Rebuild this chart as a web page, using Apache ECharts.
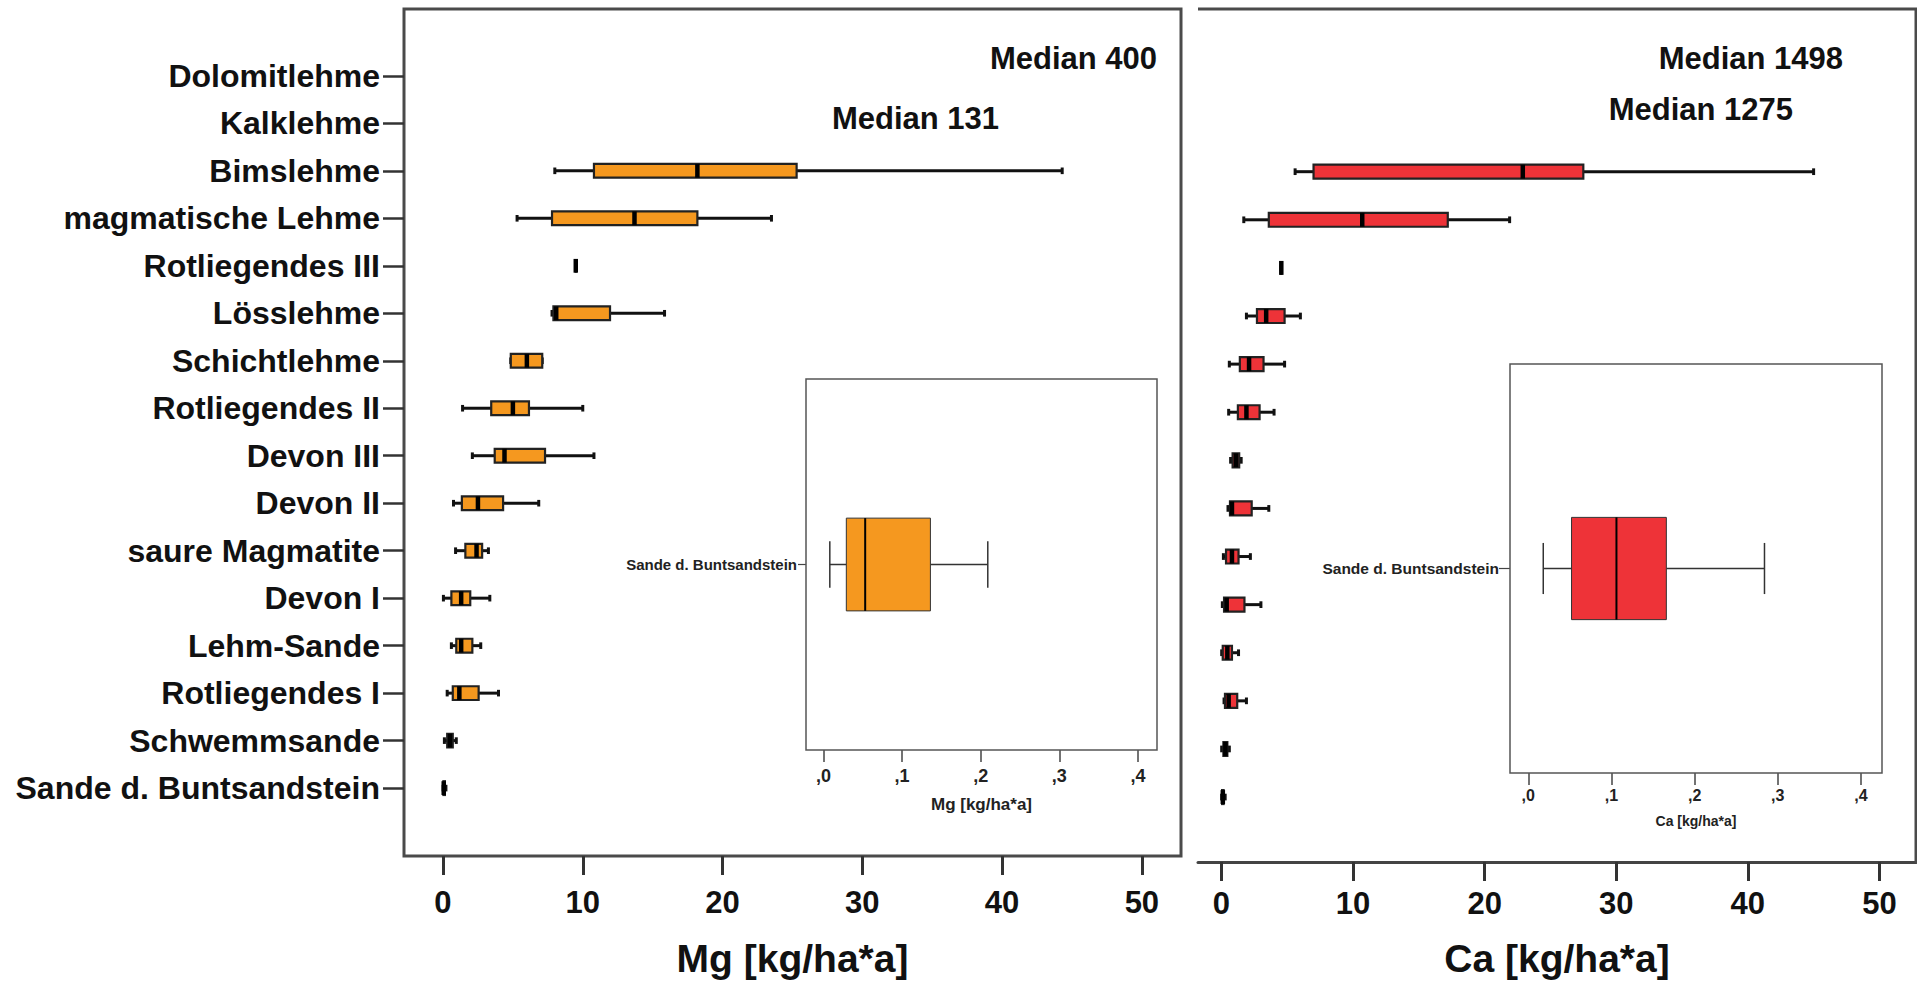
<!DOCTYPE html>
<html>
<head>
<meta charset="utf-8">
<title>Mg / Ca Boxplots</title>
<script src="https://cdn.jsdelivr.net/npm/echarts@6/dist/echarts.min.js"></script>
<style>
html, body { margin: 0; padding: 0; background: #fff; }
#chart { width: 1917px; height: 983px; }
</style>
</head>
<body>
<div id="chart"></div>
<script>
const categories = [
    'Dolomitlehme', 'Kalklehme', 'Bimslehme', 'magmatische Lehme', 'Rotliegendes III',
    'Lösslehme', 'Schichtlehme', 'Rotliegendes II', 'Devon III', 'Devon II',
    'saure Magmatite', 'Devon I', 'Lehm-Sande', 'Rotliegendes I', 'Schwemmsande',
    'Sande d. Buntsandstein'
];

// [min, Q1, median, Q3, max] per category; null = off the 0-50 scale
const mgBoxes = [
    null,
    null,
    [8.0, 10.8, 18.2, 25.3, 44.3],
    [5.3, 7.8, 13.7, 18.2, 23.5],
    [9.5, 9.5, 9.5, 9.5, 9.5],
    [7.8, 7.9, 8.1, 11.95, 15.85],
    [4.85, 4.85, 6.0, 7.1, 7.1],
    [1.4, 3.45, 5.0, 6.15, 10.0],
    [2.1, 3.7, 4.4, 7.3, 10.8],
    [0.75, 1.35, 2.5, 4.3, 6.85],
    [0.9, 1.6, 2.4, 2.8, 3.25],
    [0.03, 0.6, 1.3, 1.95, 3.35],
    [0.6, 0.95, 1.3, 2.1, 2.7],
    [0.3, 0.7, 1.17, 2.55, 3.97],
    [0.1, 0.3, 0.5, 0.7, 0.95],
    [0.008, 0.029, 0.053, 0.136, 0.209]
];

const caBoxes = [
    null,
    null,
    [5.6, 7.0, 22.9, 27.5, 45.0],
    [1.7, 3.6, 10.7, 17.2, 21.9],
    [4.55, 4.55, 4.55, 4.55, 4.55],
    [1.9, 2.7, 3.4, 4.8, 6.0],
    [0.6, 1.4, 2.1, 3.2, 4.8],
    [0.55, 1.25, 1.9, 2.9, 4.0],
    [0.7, 0.85, 1.1, 1.35, 1.5],
    [0.5, 0.65, 0.8, 2.3, 3.6],
    [0.15, 0.35, 0.8, 1.3, 2.2],
    [0.07, 0.2, 0.4, 1.75, 3.0],
    [0.02, 0.1, 0.45, 0.8, 1.3],
    [0.2, 0.27, 0.55, 1.2, 1.9],
    [0.02, 0.15, 0.3, 0.45, 0.6],
    [0.018, 0.052, 0.106, 0.166, 0.284]
];

// zoomed view of "Sande d. Buntsandstein"
const insetCategory = 'Sande d. Buntsandstein';
const mgInset = [0.008, 0.029, 0.053, 0.136, 0.209];
const caInset = [0.018, 0.052, 0.106, 0.166, 0.284];

// medians of the two off-scale groups (Dolomitlehme, Kalklehme)
const mgMedians = [400, 131];
const caMedians = [1498, 1275];

const mainTicks = [0, 10, 20, 30, 40, 50];
const insetTicks = [0, 0.1, 0.2, 0.3, 0.4];
const catTicks = categories.map((_, i) => i);

const FONT = '"Liberation Sans", Arial, sans-serif';
const ORANGE = '#F5981F';
const RED = '#EE3338';

function toRows(boxes) {
    return boxes.map((b, i) => (b ? [i].concat(b) : null)).filter(Boolean);
}

function boxRenderer(s) {
    return function (params, api) {
        const y = api.value(0);
        const p = [1, 2, 3, 4, 5].map(i => api.coord([api.value(i), y]));
        const band = api.size([0, 1])[1];
        const h = band * s.ratio;
        const cap = h * s.cap;
        const cy = p[0][1];
        const line = { stroke: s.line, lineWidth: s.whisker };
        const capStyle = { stroke: s.line, lineWidth: s.capWidth };
        return {
            type: 'group',
            children: [
                { type: 'line', shape: { x1: p[0][0], y1: cy, x2: p[1][0], y2: cy }, style: line },
                { type: 'line', shape: { x1: p[3][0], y1: cy, x2: p[4][0], y2: cy }, style: line },
                { type: 'line', shape: { x1: p[0][0], y1: cy - cap, x2: p[0][0], y2: cy + cap }, style: capStyle },
                { type: 'line', shape: { x1: p[4][0], y1: cy - cap, x2: p[4][0], y2: cy + cap }, style: capStyle },
                {
                    type: 'rect',
                    shape: { x: p[1][0], y: cy - h / 2, width: p[3][0] - p[1][0], height: h },
                    style: { fill: s.color, stroke: s.border, lineWidth: s.borderWidth }
                },
                {
                    type: 'line',
                    shape: { x1: p[2][0], y1: cy - h / 2, x2: p[2][0], y2: cy + h / 2 },
                    style: { stroke: '#000', lineWidth: s.median }
                }
            ]
        };
    };
}

const mainStyle = { ratio: 0.29, cap: 0.24, line: '#111', whisker: 3, capWidth: 3, border: '#222', borderWidth: 2.2, median: 4.5 };
const insetStyle = { ratio: 0.25, cap: 0.25, line: '#333', whisker: 1.5, capWidth: 1.5, border: '#333', borderWidth: 1, median: 2 };

function mainXAxis(grid, min, max, name, margin, gap, line) {
    return {
        gridIndex: grid, type: 'value', min: min, max: max, position: 'bottom',
        splitLine: { show: false },
        axisLine: { show: line, onZero: false, lineStyle: { color: '#444', width: 3 } },
        axisTick: { customValues: mainTicks, length: 19, lineStyle: { color: '#333', width: 3 } },
        axisLabel: { customValues: mainTicks, margin: margin, fontSize: 31, fontWeight: 'bold', color: '#111', fontFamily: FONT },
        name: name, nameLocation: 'middle', nameGap: gap,
        nameTextStyle: { fontSize: 39, fontWeight: 'bold', color: '#111', fontFamily: FONT }
    };
}

function insetXAxis(grid, min, max, name, labelSize, nameSize, margin, gap) {
    return {
        gridIndex: grid, type: 'value', min: min, max: max, position: 'bottom',
        splitLine: { show: false },
        axisLine: { show: false, onZero: false },
        axisTick: { customValues: insetTicks, length: 12, lineStyle: { color: '#444', width: 1.5 } },
        axisLabel: {
            customValues: insetTicks, margin: margin, fontSize: labelSize, fontWeight: 'bold',
            color: '#222', fontFamily: FONT,
            formatter: v => ',' + Math.round(v * 10)
        },
        name: name, nameLocation: 'middle', nameGap: gap,
        nameTextStyle: { fontSize: nameSize, fontWeight: 'bold', color: '#222', fontFamily: FONT }
    };
}

function insetYAxis(grid, tickLen, labelSize, margin) {
    return {
        gridIndex: grid, type: 'value', min: -0.5, max: 0.5, inverse: true, position: 'left',
        splitLine: { show: false },
        axisLine: { show: false, onZero: false },
        axisTick: { customValues: [0], length: tickLen, lineStyle: { color: '#444', width: 1.2 } },
        axisLabel: {
            customValues: [0], margin: margin, fontSize: labelSize, fontWeight: 'bold',
            color: '#222', fontFamily: FONT, formatter: () => insetCategory
        }
    };
}

function medianText(x, y, value) {
    return {
        type: 'text', x: x, y: y, z: 100,
        style: {
            text: 'Median ' + value, align: 'right', verticalAlign: 'middle',
            fontSize: 31, fontWeight: 'bold', fontFamily: FONT, fill: '#111'
        }
    };
}

const chart = echarts.init(document.getElementById('chart'), null, { renderer: 'svg' });

chart.setOption({
    animation: false,
    backgroundColor: '#fff',
    textStyle: { fontFamily: FONT },
    grid: [
        { left: 404, top: 9, width: 777, height: 849, show: true, borderColor: '#4a4a4a', borderWidth: 3 },
        { left: 1198, top: 9, width: 718, height: 854, show: false },
        { left: 806, top: 379, width: 351, height: 371, show: true, backgroundColor: '#fff', borderColor: '#555', borderWidth: 1.5, z: 5 },
        { left: 1510, top: 364, width: 372, height: 409, show: true, backgroundColor: '#fff', borderColor: '#555', borderWidth: 1.5, z: 5 }
    ],
    xAxis: [
        mainXAxis(0, -2.79, 52.8, 'Mg [kg/ha*a]', 31, 83, false),
        mainXAxis(1, -1.78, 52.78, 'Ca [kg/ha*a]', 26, 77, true),
        insetXAxis(2, -0.0223, 0.4243, 'Mg [kg/ha*a]', 18, 17, 17, 46),
        insetXAxis(3, -0.022, 0.4253, 'Ca [kg/ha*a]', 16, 14, 14, 41)
    ],
    yAxis: [
        {
            gridIndex: 0, type: 'value', min: -1.408, max: 16.43, inverse: true, position: 'left',
            splitLine: { show: false },
            axisLine: { show: false, onZero: false },
            axisTick: { customValues: catTicks, length: 21, lineStyle: { color: '#333', width: 2.5 } },
            axisLabel: {
                customValues: catTicks, margin: 24, fontSize: 32, fontWeight: 'bold',
                color: '#111', fontFamily: FONT,
                formatter: v => categories[Math.round(v)]
            }
        },
        {
            gridIndex: 1, type: 'value', min: -1.382, max: 16.35, inverse: true, show: false,
            axisLine: { onZero: false }
        },
        insetYAxis(2, 8, 15, 9),
        insetYAxis(3, 11, 15.5, 11)
    ],
    series: [
        {
            type: 'custom', name: 'Mg', xAxisIndex: 0, yAxisIndex: 0, clip: true,
            renderItem: boxRenderer(Object.assign({ color: ORANGE }, mainStyle)),
            encode: { x: [1, 2, 3, 4, 5], y: 0 },
            data: toRows(mgBoxes)
        },
        {
            type: 'custom', name: 'Ca', xAxisIndex: 1, yAxisIndex: 1, clip: true,
            renderItem: boxRenderer(Object.assign({ color: RED }, mainStyle)),
            encode: { x: [1, 2, 3, 4, 5], y: 0 },
            data: toRows(caBoxes)
        },
        {
            type: 'custom', name: 'Mg inset', xAxisIndex: 2, yAxisIndex: 2, clip: true, z: 10,
            renderItem: boxRenderer(Object.assign({ color: ORANGE }, insetStyle)),
            encode: { x: [1, 2, 3, 4, 5], y: 0 },
            data: [[0].concat(mgInset)]
        },
        {
            type: 'custom', name: 'Ca inset', xAxisIndex: 3, yAxisIndex: 3, clip: true, z: 10,
            renderItem: boxRenderer(Object.assign({ color: RED }, insetStyle)),
            encode: { x: [1, 2, 3, 4, 5], y: 0 },
            data: [[0].concat(caInset)]
        }
    ],
    graphic: [
        {
            type: 'polyline', z: 50,
            shape: { points: [[1198, 9], [1916, 9], [1916, 863]] },
            style: { stroke: '#4a4a4a', lineWidth: 3, fill: null }
        },
        medianText(1157, 58, mgMedians[0]),
        medianText(999, 118, mgMedians[1]),
        medianText(1843, 58, caMedians[0]),
        medianText(1793, 109, caMedians[1])
    ]
});
</script>
</body>
</html>
